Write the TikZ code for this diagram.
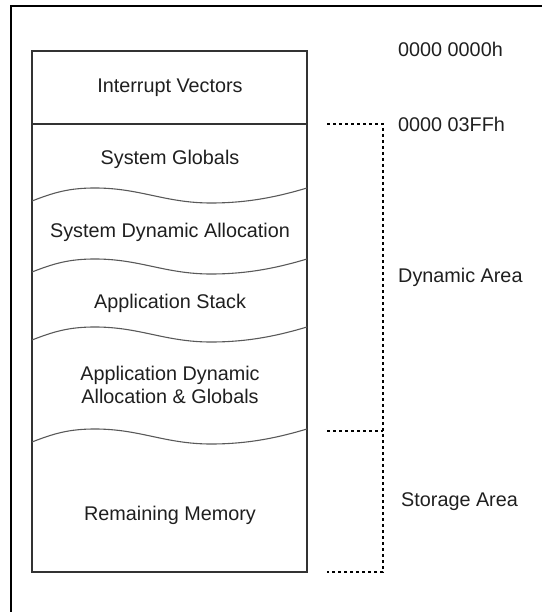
\documentclass[tikz,border=0pt]{standalone}
\usepackage{fontspec}
\setmainfont{Liberation Sans}
\begin{document}
\begin{tikzpicture}[x=1pt,y=-1pt,
  lbl/.style={inner sep=0pt,anchor=base,font=\fontsize{19.8}{23}\selectfont,text=black!88},
  rlbl/.style={lbl,anchor=base west},
  boxline/.style={draw=black!80,line width=1.5pt},
  wave/.style={draw=black!65,line width=1.1pt},
  bracket/.style={draw=black,line width=1.4pt,dash pattern=on 3pt off 3pt}]
\useasboundingbox (0,0) rectangle (542,612);
% outer frame
\draw[line width=1.5pt] (11,612) -- (11,6) -- (542,6);
% memory box
\draw[boxline] (32,51) rectangle (307,572);
\draw[boxline] (32,124) -- (307,124);
% waves
\foreach \p in {188,259,327,429}{
  \draw[wave] (32,\p+13) .. controls (55,\p+4) and (70,\p) .. (95,\p)
     .. controls (140,\p) and (165,\p+15) .. (211,\p+15)
     .. controls (250,\p+15) and (280,\p+8) .. (307,\p);
}
% texts in box
\node[lbl] (iv) at (170,93) {Interrupt Vectors};
\node[lbl] (sg) at (170,165) {System Globals};
\node[lbl] (sda) at (170,237) {System Dynamic Allocation};
\node[lbl] (as) at (170,308) {Application Stack};
\node[lbl] (ada1) at (170,380) {Application Dynamic};
\node[lbl] (ada2) at (170,403) {Allocation \& Globals};
\node[lbl] (rm) at (170,520) {Remaining Memory};
% right labels
\node[rlbl] (a0) at (398,57) {0000 0000h};
\node[rlbl] (a1) at (398,132) {0000 03FFh};
\node[rlbl] (da) at (398,282) {Dynamic Area};
\node[rlbl] (sa) at (401,506) {Storage Area};
% brackets
\coordinate (b1) at (327,124);
\coordinate (c1) at (383,124);
\coordinate (b2) at (327,431);
\coordinate (c2) at (383,431);
\coordinate (b3) at (327,572);
\coordinate (c3) at (383,572);
\draw[bracket] (b1) -- (c1) -- (c2) -- (c3) -- (b3);
\draw[bracket] (b2) -- (c2);
\end{tikzpicture}
\end{document}
